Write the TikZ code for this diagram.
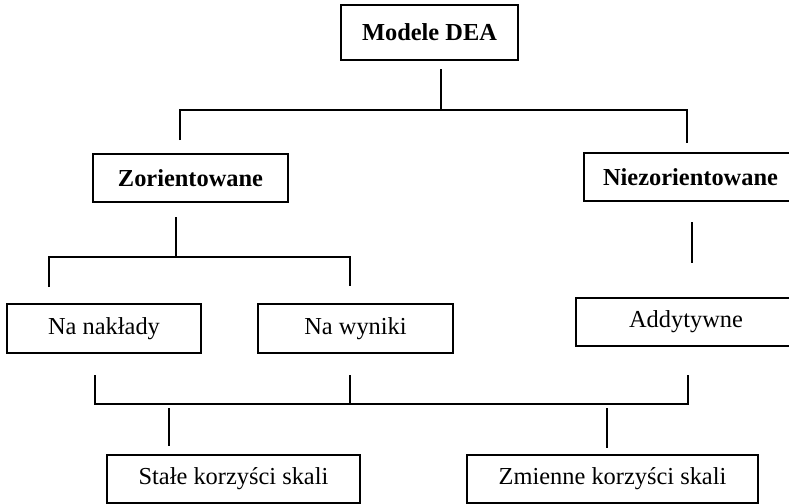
\documentclass[tikz,border=0pt]{standalone}
\usepackage{fontspec}
\setmainfont{Liberation Serif}
\begin{document}
\begin{tikzpicture}[x=0.5pt,y=-0.5pt,
  box/.style={draw=black,line width=0.75pt,rectangle,inner sep=0pt,
    font=\fontsize{12.2}{14}\selectfont},
  hdr/.style={box,font=\fontsize{12.2}{14}\selectfont\bfseries},
  conn/.style={draw=black,line width=0.6pt}]
\useasboundingbox (0,0) rectangle (789,504);
% boxes
\node[hdr,minimum width=88.5pt,minimum height=27.5pt] (dea) at (429.5,32.5) {Modele DEA};
\node[hdr,minimum width=97.5pt,minimum height=24pt] (zor) at (190.5,178) {Zorientowane};
\node[hdr,minimum width=106.5pt,minimum height=24pt] (nzor) at (690.5,177) {Niezorientowane};
\node[box,minimum width=97pt,minimum height=24.5pt] (nak) at (104,328.5) {Na nakłady};
\node[box,minimum width=97.5pt,minimum height=24.5pt] (wyn) at (355.5,328.5) {Na wyniki};
\node[box,minimum width=110pt,minimum height=24pt] (add) at (686,322) {Addytywne};
\node[box,minimum width=126.5pt,minimum height=24pt] (sta) at (233.5,479) {Stałe korzyści skali};
\node[box,minimum width=145.5pt,minimum height=24pt] (zmi) at (612.5,479) {Zmienne korzyści skali};
% connector points
\coordinate (a0) at (441,69);
\coordinate (a1) at (441,110);
\coordinate (aL) at (180,110);
\coordinate (aR) at (687,110);
\coordinate (aLd) at (180,140);
\coordinate (aRd) at (687,143);
\coordinate (b0) at (176,217);
\coordinate (b1) at (176,257);
\coordinate (bL) at (49,257);
\coordinate (bR) at (350,257);
\coordinate (bLd) at (49,287);
\coordinate (bRd) at (350,286);
\coordinate (c0) at (692,222);
\coordinate (c1) at (692,263);
\coordinate (d1) at (95,375);
\coordinate (d2) at (350,375);
\coordinate (d3) at (688,375);
\coordinate (e1) at (95,404);
\coordinate (e2) at (350,404);
\coordinate (e3) at (688,404);
\coordinate (f1) at (169,408);
\coordinate (f1d) at (169,446);
\coordinate (f2) at (607,408);
\coordinate (f2d) at (607,448);
% connectors
\draw[conn] (a0) -- (a1);
\draw[conn] (aLd) -- (aL) -- (aR) -- (aRd);
\draw[conn] (b0) -- (b1);
\draw[conn] (bLd) -- (bL) -- (bR) -- (bRd);
\draw[conn] (c0) -- (c1);
\draw[conn] (d1) -- (e1) -- (e3) -- (d3);
\draw[conn] (d2) -- (e2);
\draw[conn] (f1) -- (f1d);
\draw[conn] (f2) -- (f2d);
\end{tikzpicture}
\end{document}
